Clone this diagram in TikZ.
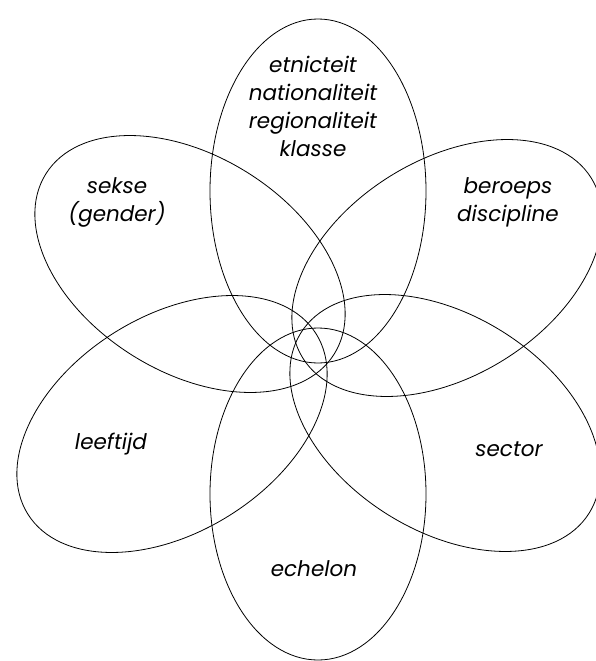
\documentclass[tikz,border=0pt]{standalone}
\usepackage{fontspec}
\setmainfont{Poppins}

\begin{document}
\begin{tikzpicture}[x=1pt,y=-1pt,line width=0.8pt,
  petal/.style={font=\itshape\fontsize{21.5}{28}\selectfont,align=center,inner sep=0pt}]
  \useasboundingbox (0,0) rectangle (596,661);
  % upper and lower petal
  \draw (318,191) ellipse [x radius=108, y radius=172];
  \draw (318,494) ellipse [x radius=108, y radius=166];
  % side petals
  \draw[rotate around={-32:(190,264)}] (190,264) ellipse [x radius=170, y radius=108];
  \draw[rotate around={32:(447,268)}] (447,268) ellipse [x radius=170, y radius=108];
  \draw[rotate around={32:(172,424)}] (172,424) ellipse [x radius=170, y radius=108];
  \draw[rotate around={-32:(445,423)}] (445,423) ellipse [x radius=170, y radius=108];
  % labels
  \node[petal] (etnic) at (313,106) {etnicteit\\nationaliteit\\regionaliteit\\klasse};
  \node[petal] (sekse) at (117,202) {sekse\\(gender)};
  \node[petal] (beroep) at (508,202) {beroeps\\discipline};
  \node[petal] (leeftijd) at (111,444) {leeftijd};
  \node[petal] (sector) at (509,449) {sector};
  \node[petal] (echelon) at (314,569) {echelon};
\end{tikzpicture}
\end{document}
